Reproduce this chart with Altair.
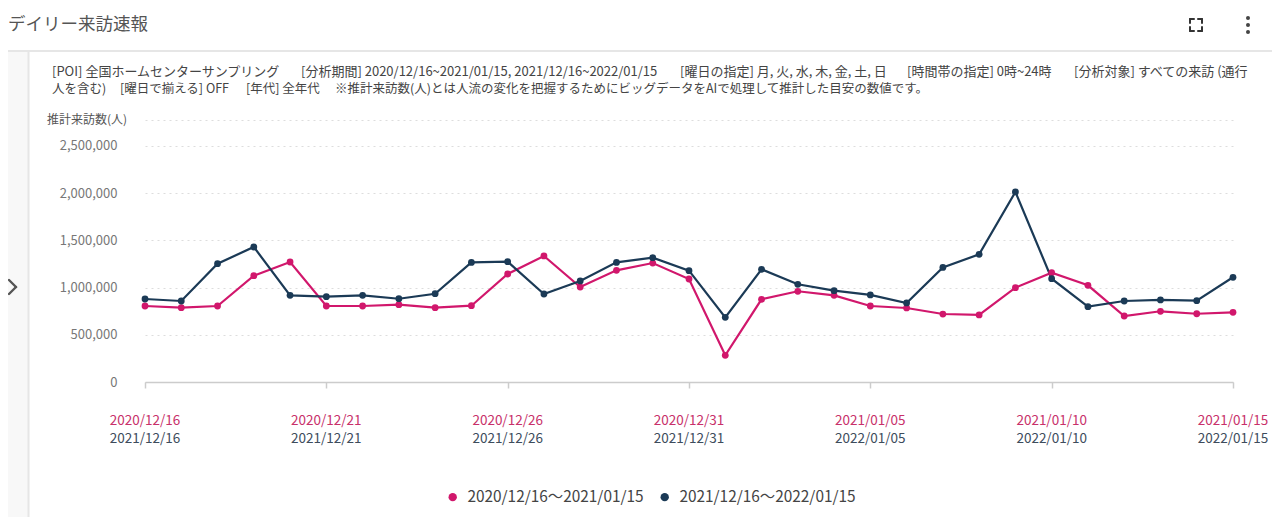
import altair as alt
import pandas as pd

FONT = "Noto Sans CJK JP"
PINK = "#d1176c"
NAVY = "#1b3a56"

title_text = "デイリー来訪速報"
info_line1 = ["[POI] 全国ホームセンターサンプリング",
              "[分析期間] 2020/12/16~2021/01/15, 2021/12/16~2022/01/15",
              "[曜日の指定] 月, 火, 水, 木, 金, 土, 日",
              "[時間帯の指定] 0時~24時",
              "[分析対象] すべての来訪 (通行"]
info_line2 = ["人を含む)",
              "[曜日で揃える] OFF",
              "[年代] 全年代",
              "※推計来訪数(人)とは人流の変化を把握するためにビッグデータをAIで処理して推計した目安の数値です。"]
y_title = "推計来訪数(人)"

series_names = ["2020/12/16〜2021/01/15", "2021/12/16〜2022/01/15"]
days = list(range(31))
vals_a = [805000, 787000, 805000, 1126000, 1271000, 805000, 805000, 819000, 787000, 808000,
          1144000, 1335000, 1006000, 1183000, 1260000, 1091000, 283000, 876000, 961000, 918000,
          805000, 784000, 720000, 710000, 999000, 1158000, 1024000, 699000, 749000, 723000, 738000]
vals_b = [879000, 858000, 1253000, 1430000, 918000, 904000, 918000, 882000, 935000, 1267000,
          1274000, 932000, 1070000, 1267000, 1317000, 1179000, 685000, 1194000, 1035000, 967000,
          922000, 837000, 1214000, 1352000, 2013000, 1094000, 798000, 858000, 869000, 861000, 1109000]

tick_days = [0, 5, 10, 15, 20, 25, 30]
tick_labels_a = ["2020/12/16", "2020/12/21", "2020/12/26", "2020/12/31", "2021/01/05", "2021/01/10", "2021/01/15"]
tick_labels_b = ["2021/12/16", "2021/12/21", "2021/12/26", "2021/12/31", "2022/01/05", "2022/01/10", "2022/01/15"]
y_ticks = [0, 500000, 1000000, 1500000, 2000000, 2500000, 2775000]

W, H = 1088, 262

df = pd.DataFrame({
    "day": days + days,
    "value": vals_a + vals_b,
    "series": [series_names[0]] * 31 + [series_names[1]] * 31,
})
ticks_df = pd.DataFrame({"day": tick_days, "la": tick_labels_a, "lb": tick_labels_b})

xs = alt.Scale(domain=[0, 30], nice=False, zero=False)
ys = alt.Scale(domain=[0, 2775000], nice=False)
cs = alt.Scale(domain=series_names, range=[PINK, NAVY])

xaxis = alt.Axis(values=tick_days, labels=False, title=None, grid=False, domainColor="#cccccc",
                 domainWidth=1.5, tickColor="#cccccc", tickSize=6, tickWidth=1.5)
yaxis = alt.Axis(values=y_ticks, title=None, domain=False, ticks=False, gridColor="#dddddd",
                 gridDash=[2, 4], gridWidth=1, labelColor="#777777", labelFontSize=13,
                 labelFont=FONT, labelPadding=28,
                 labelExpr="datum.value > 2600000 ? '' : format(datum.value, ',')")
legend = alt.Legend(title=None, orient="none", direction="horizontal",
                    legendX=300, legendY=369, symbolType="circle", symbolSize=70,
                    symbolStrokeWidth=0, labelFontSize=15.4, labelFont=FONT, labelColor="#444444",
                    labelLimit=400, columnPadding=13, labelOffset=7)

base = alt.Chart(df)
lines = base.mark_line(strokeWidth=2.2).encode(
    x=alt.X("day:Q", scale=xs, axis=xaxis),
    y=alt.Y("value:Q", scale=ys, axis=yaxis),
    color=alt.Color("series:N", scale=cs, sort=series_names, legend=legend),
    detail="series:N",
)
points = base.mark_circle(size=46, opacity=1).encode(
    x=alt.X("day:Q", scale=xs),
    y=alt.Y("value:Q", scale=ys),
    color=alt.Color("series:N", scale=cs, sort=series_names, legend=legend),
)

lab_a = alt.Chart(ticks_df).mark_text(font=FONT, fontSize=13.5, color="#c8306a", baseline="middle").encode(
    x=alt.X("day:Q", scale=xs), y=alt.value(300.5), text="la:N")
lab_b = alt.Chart(ticks_df).mark_text(font=FONT, fontSize=13.5, color="#3d4c5c", baseline="middle").encode(
    x=alt.X("day:Q", scale=xs), y=alt.value(318.5), text="lb:N")

# decorations (pixel positions relative to plot origin)
one = pd.DataFrame({"k": [0]})
def txt(s, x, y, size, color, weight="normal", align="left"):
    return alt.Chart(one).mark_text(text=s, font=FONT, fontSize=size, color=color, align=align,
                                    baseline="middle", fontWeight=weight).encode(
        x=alt.value(x), y=alt.value(y))

sidebar = alt.Chart(one).mark_rect(color="#f8f8f8").encode(
    x=alt.value(-137), x2=alt.value(-117), y=alt.value(-68), y2=alt.value(402))
segs = pd.DataFrame({
    "x":  [-145, -116.5, 1045, 1045, 1053, 1057, 1045, 1045, 1053, 1057, -136, -129],
    "x2": [1135, -116.5, 1049, 1045, 1057, 1057, 1049, 1045, 1057, 1057, -129, -136],
    "y":  [-69, -68, -101, -101, -101, -101, -89, -89, -89, -89, 160, 167],
    "y2": [-69, 402, -101, -97, -101, -97, -89, -93, -89, -93, 167, 174],
    "w":  [2, 2, 2, 2, 2, 2, 2, 2, 2, 2, 2.4, 2.4],
    "c":  ["#e6e6e6", "#e6e6e6"] + ["#333333"] * 8 + ["#555555"] * 2,
})
rules = alt.Chart(segs).mark_rule(strokeCap="round").encode(
    x=alt.X("x:Q", scale=None), x2="x2:Q", y=alt.Y("y:Q", scale=None), y2="y2:Q",
    color=alt.Color("c:N", scale=None), strokeWidth=alt.StrokeWidth("w:Q", scale=None))
dots = alt.Chart(pd.DataFrame({"x": [1103, 1103, 1103], "y": [-102, -95, -88]})).mark_circle(
    size=16, color="#444444", opacity=1).encode(
    x=alt.X("x:Q", scale=None), y=alt.Y("y:Q", scale=None))

line1_x = [-93, 156, 535, 762, 929]
line2_x = [-93, -25, 101, 190]
info = []
for s, x in zip(info_line1, line1_x):
    info.append(txt(s, x, -48, 13, "#444444"))
for s, x in zip(info_line2, line2_x):
    info.append(txt(s, x, -31, 12.5, "#444444"))

chart = alt.layer(
    sidebar, rules, dots,
    txt(title_text, -137, -95, 17.5, "#555555"),
    *info,
    txt(y_title, -98, 0, 12, "#555555"),
    lines, points, lab_a, lab_b,
).properties(
    width=W, height=H,
    padding={"left": 137, "top": 112, "right": 39, "bottom": 135},
    autosize=alt.AutoSizeParams(type="none"),
).configure_view(stroke=None).configure_axis(labelFont=FONT)

chart.save("out.html", embed_options={"renderer": "svg", "actions": False})
